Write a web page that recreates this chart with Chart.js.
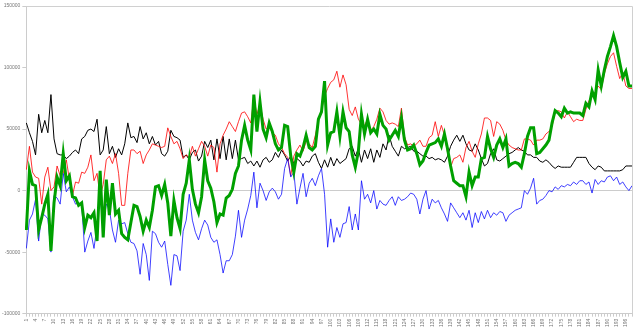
<!DOCTYPE html>
<html>
<head>
<meta charset="utf-8">
<script src="https://cdn.jsdelivr.net/npm/chart.js@4/dist/chart.umd.min.js"></script>
<style>
  html, body { margin: 0; padding: 0; background: #fff; }
  canvas { display: block; }
</style>
</head>
<body>
<canvas id="balanceChart" width="640" height="331"></canvas>
<script>
// periods 1..198
const labels = Array.from({ length: 198 }, (_, i) => String(i + 1));

const yTicks = [-100000, -50000, 0, 50000, 100000, 150000];

const black = [55000,47000,40000,29000,62000,47000,57000,47000,78000,42000,
  30000,29000,29000,26000,28000,31000,33000,30000,42000,44000,
  49000,50000,48000,58000,29000,33000,52000,30000,36000,27000,
  34000,29000,38000,55000,43000,44000,39000,52000,42000,47000,
  38000,44000,37000,40000,30000,28000,32000,49000,44000,43000,
  41000,27000,29000,25000,31000,33000,24000,28000,40000,35000,
  41000,25000,42000,26000,44000,25000,42000,26000,41000,25000,
  26000,27000,22000,24000,20000,24000,19000,25000,27000,23000,
  25000,31000,27000,33000,29000,24000,28000,22000,26000,24000,
  20000,24000,23000,28000,30000,23000,18000,25000,19000,27000,
  20000,26000,22000,24000,26000,34000,36000,28000,34000,23000,
  33000,26000,34000,23000,33000,27000,38000,33000,45000,36000,
  32000,28000,36000,34000,35000,36000,32000,32000,30000,28000,
  28000,26000,27000,25000,26000,25000,23000,28000,36000,41000,
  45000,40000,45000,38000,33000,32000,38000,33000,26000,20000,
  22000,30000,34000,25000,24000,26000,28000,30000,31000,33000,
  35000,33000,32000,29000,29000,27000,27000,24000,23000,25000,
  23000,20000,18000,20000,19000,19000,19000,19000,23000,27000,
  27000,27000,27000,22000,19000,17000,20000,19000,16000,16000,
  16000,16000,16000,16000,17000,20000,20000,20000];

const red = [17000,36000,15000,11000,10000,-11000,11000,19000,0,3000,
  20000,12000,14000,25000,9000,-4000,7000,6000,15000,14000,
  19000,29000,8000,14000,-5000,5000,25000,28000,22000,30000,
  14000,-12000,-12000,14000,33000,33000,30000,32000,22000,29000,
  33000,38000,37000,36000,35000,36000,51000,44000,38000,40000,
  34000,26000,29000,27000,36000,28000,34000,40000,36000,28000,
  37000,35000,15000,38000,45000,50000,56000,52000,48000,56000,
  63000,64000,60000,55000,75000,62000,70000,58000,50000,52000,
  47000,45000,38000,35000,30000,27000,12000,28000,33000,37000,
  32000,40000,38000,35000,45000,57000,65000,77000,83000,88000,
  90000,97000,84000,94000,86000,66000,61000,68000,58000,54000,
  53000,58000,49000,52000,58000,67000,64000,57000,54000,55000,
  54000,52000,67000,44000,37000,38000,36000,38000,41000,36000,
  36000,43000,45000,56000,44000,53000,45000,31000,19000,26000,
  27000,29000,23000,35000,40000,32000,27000,38000,46000,59000,
  59000,57000,44000,56000,54000,49000,41000,37000,35000,34000,
  33000,33000,42000,42000,41000,37000,41000,41000,42000,46000,
  48000,52000,64000,65000,64000,59000,64000,60000,56000,58000,
  57000,57000,66000,73000,76000,80000,85000,82000,95000,103000,
  109000,112000,101000,91000,96000,85000,83000,83000];

const blue = [-47000,-24000,-19000,-7000,-41000,-19000,-20000,-23000,-50000,-4000,
  -6000,-11000,14000,-1000,3000,-5000,-11000,-10000,-11000,-50000,
  -41000,-34000,-47000,-28000,-5000,-30000,-11000,-15000,-32000,-42000,
  -24000,-27000,-26000,-35000,-42000,-43000,-49000,-68000,-43000,-52000,
  -73000,-33000,-35000,-42000,-46000,-41000,-60000,-77000,-52000,-53000,
  -65000,-33000,-24000,-3000,-24000,-34000,-40000,-31000,-24000,-28000,
  -38000,-42000,-40000,-52000,-67000,-57000,-57000,-52000,-37000,-16000,
  -38000,-24000,-15000,-4000,15000,-14000,6000,0,-8000,-1000,
  2000,-1000,-7000,-3000,18000,26000,11000,15000,-11000,2000,
  14000,-5000,6000,10000,4000,12000,18000,-3000,-46000,-23000,
  -42000,-30000,-38000,-27000,-26000,-13000,-32000,-19000,-32000,8000,
  -7000,-3000,-10000,0,-15000,-8000,-11000,-12000,-8000,-5000,
  -12000,-5000,-8000,-7000,-5000,-2000,-3000,-7000,-19000,-7000,
  0,-15000,-7000,-10000,-8000,-14000,-19000,-25000,-10000,-14000,
  -18000,-22000,-18000,-24000,-16000,-30000,-18000,-26000,-17000,-23000,
  -16000,-22000,-18000,-20000,-17000,-18000,-25000,-20000,-18000,-16000,
  -15000,-14000,0,-3000,2000,10000,-11000,-8000,-7000,-4000,
  0,-1000,3000,1000,4000,3000,5000,4000,7000,5000,
  8000,8000,5000,7000,-2000,9000,5000,8000,7000,11000,
  12000,8000,11000,5000,7000,3000,0,4000];

const green = [-32000,16000,5000,4000,-32000,-22000,-11000,-3000,-49000,-10000,
  11000,4000,30000,8000,12000,-5000,-6000,-12000,-10000,-30000,
  -20000,-22000,-18000,-41000,16000,-38000,9000,-20000,6000,-19000,
  -16000,-35000,-38000,-40000,-26000,-12000,-13000,-21000,-33000,-24000,
  -30000,-16000,3000,4000,-4000,5000,-10000,-37000,-8000,-22000,
  -31000,-3000,6000,25000,1000,-11000,-18000,-5000,25000,8000,
  2000,-9000,-26000,-19000,-20000,-6000,-4000,1000,14000,20000,
  41000,53000,41000,33000,78000,48000,72000,50000,43000,55000,
  48000,38000,33000,35000,53000,52000,28000,15000,30000,28000,
  35000,45000,35000,33000,36000,58000,64000,89000,37000,47000,
  48000,64000,44000,64000,51000,48000,29000,19000,32000,62000,
  46000,58000,47000,50000,46000,62000,53000,50000,41000,45000,
  49000,44000,59000,41000,33000,34000,37000,30000,21000,24000,
  31000,37000,38000,39000,42000,36000,46000,34000,20000,8000,
  6000,4000,4000,-5000,15000,4000,11000,11000,26000,27000,
  44000,34000,27000,37000,42000,35000,42000,20000,22000,23000,
  22000,19000,30000,44000,51000,51000,30000,31000,34000,37000,
  41000,55000,65000,63000,60000,67000,63000,64000,63000,63000,
  63000,61000,71000,68000,81000,74000,98000,85000,98000,109000,
  117000,126000,117000,104000,92000,97000,85000,85000];

// light frame on the top and right edges of the plot
const frame = {
  id: 'frame',
  afterDraw(chart) {
    const { ctx, chartArea: a } = chart;
    ctx.save();
    ctx.strokeStyle = '#d0d0d0';
    ctx.lineWidth = 1;
    ctx.beginPath();
    ctx.moveTo(a.left, a.top + 0.5);
    ctx.lineTo(a.right + 0.5, a.top + 0.5);
    ctx.lineTo(a.right + 0.5, a.bottom);
    ctx.stroke();
    ctx.restore();
  }
};

const ctx = document.getElementById('balanceChart').getContext('2d');

new Chart(ctx, {
  type: 'line',
  data: {
    labels: labels,
    datasets: [
      { label: 'green', data: green, borderColor: '#00a000', borderWidth: 3 },
      { label: 'blue', data: blue, borderColor: 'rgba(0,0,255,0.75)', borderWidth: 1 },
      { label: 'red', data: red, borderColor: 'rgba(255,0,0,0.8)', borderWidth: 1 },
      { label: 'black', data: black, borderColor: '#000000', borderWidth: 1 }
    ]
  },
  options: {
    responsive: false,
    animation: false,
    devicePixelRatio: 1,
    elements: {
      point: { radius: 0 },
      line: { tension: 0, fill: false }
    },
    plugins: {
      legend: { display: false },
      tooltip: { enabled: false }
    },
    layout: { padding: { top: 6, right: 4, left: 0, bottom: 2 } },
    scales: {
      x: {
        grid: { drawOnChartArea: false, tickLength: 3, color: '#cccccc' },
        border: { color: '#cccccc' },
        ticks: {
          autoSkip: false,
          maxRotation: 90,
          minRotation: 90,
          padding: 2,
          color: '#777',
          font: { family: 'Liberation Sans', size: 5 },
          callback: (v, i) => (i % 3 === 0 ? labels[i] : '')
        }
      },
      y: {
        min: yTicks[0],
        max: yTicks[yTicks.length - 1],
        afterBuildTicks: axis => { axis.ticks = yTicks.map(v => ({ value: v })); },
        grid: {
          color: c => (c.tick && c.tick.value === 0 ? '#cccccc' : 'transparent'),
          tickColor: '#cccccc',
          tickLength: 4
        },
        border: { color: '#cccccc' },
        ticks: {
          color: '#777',
          padding: 2,
          font: { family: 'Liberation Sans', size: 5 },
          callback: v => String(v)
        }
      }
    }
  },
  plugins: [frame]
});
</script>
</body>
</html>
